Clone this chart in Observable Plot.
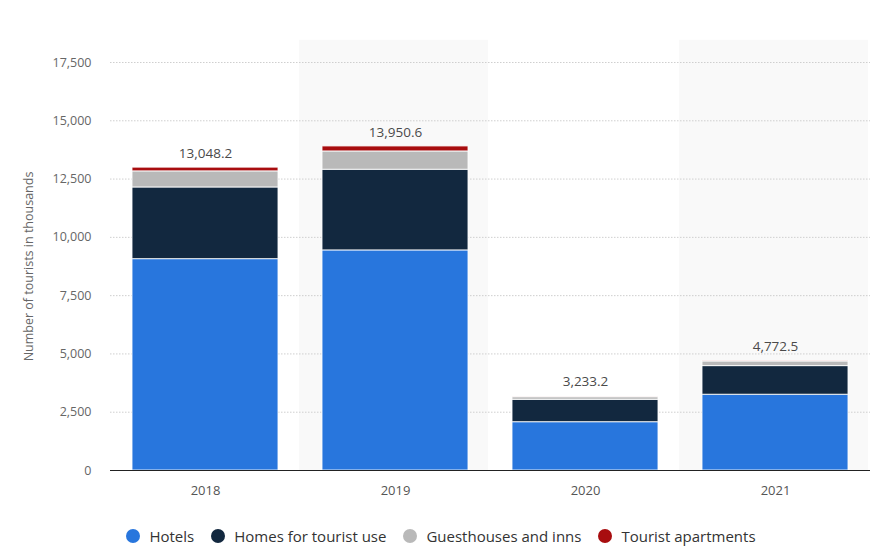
<!DOCTYPE html>
<html>
<head>
<meta charset="utf-8">
<script src="https://cdn.jsdelivr.net/npm/d3@7"></script>
<script src="https://cdn.jsdelivr.net/npm/@observablehq/plot@0.6"></script>
<style>
  body { margin: 0; background: #fff; font-family: "Open Sans", sans-serif; }
  #wrap { width: 878px; height: 549px; position: relative; }
  #legend { position: absolute; top: 526px; left: 0; width: 878px; display: flex; justify-content: center; gap: 17px; font-size: 15px; color: #333; padding-left: 4px; box-sizing: border-box; }
  #legend .it { display: flex; align-items: center; gap: 9px; }
  #legend .dot { width: 14px; height: 14px; border-radius: 50%; display: inline-block; }
</style>
</head>
<body>
<div id="wrap"><div id="chart"></div><div id="legend"></div></div>
<script>
const years = ["2018", "2019", "2020", "2021"];
const hotels = [9065, 9440, 2072, 3250];
const homes = [3075, 3460, 961, 1228];
const guesthouses = [690, 785, 112, 200];
const apartments = [160, 215, 10, 15];
const totals = [13048.2, 13950.6, 3233.2, 4772.5];
const totalLabels = ["13,048.2", "13,950.6", "3,233.2", "4,772.5"];
const seriesNames = ["Hotels", "Homes for tourist use", "Guesthouses and inns", "Tourist apartments"];
const seriesColors = ["#2876dd", "#12283f", "#b9b9b9", "#a80d0f"];
const yTicks = [0, 2500, 5000, 7500, 10000, 12500, 15000, 17500];
const shadedYears = ["2019", "2021"];

const seriesValues = [hotels, homes, guesthouses, apartments];
const data = [];
seriesNames.forEach((s, i) => years.forEach((y, j) => data.push({year: y, type: s, value: seriesValues[i][j]})));
const totalData = years.map((y, j) => ({year: y, total: totals[j], label: totalLabels[j]}));
const fmt = d3.format(",");

const chart = Plot.plot({
  width: 878,
  height: 510,
  marginLeft: 110,
  marginRight: 8,
  marginTop: 62,
  marginBottom: 40,
  style: {fontFamily: "'Open Sans', sans-serif", fontSize: "12px", color: "#666", background: "transparent"},
  x: {domain: years, paddingInner: 0.23, paddingOuter: 0.115},
  y: {domain: [0, 17500]},
  color: {domain: seriesNames, range: seriesColors},
  marks: [
    Plot.barY(shadedYears, {x: d => d, y1: 0, y2: 18450, fill: "#f9f9f9", insetLeft: -23, insetRight: -20}),
    Plot.ruleY(yTicks.filter(d => d > 0), {stroke: "#cfcfcf", strokeDasharray: "1.5,1.5"}),
    Plot.barY(data, {x: "year", y: "value", fill: "type", stroke: "#ffffff", strokeWidth: 1, strokeOpacity: 0.85}),
    Plot.ruleY([0], {stroke: "#222", strokeWidth: 1.2}),
    Plot.text(totalData, {x: "year", y: "total", text: "label", dy: -13, fill: "#4a4a4a", fontSize: 13.5, letterSpacing: 1}),
    Plot.axisY({ticks: yTicks, tickFormat: d => fmt(d), tickSize: 0, tickPadding: 19, fontSize: 12.5, fill: "#666",
      label: "Number of tourists in thousands", labelAnchor: "center", labelOffset: 86, labelArrow: "none"}),
    Plot.axisX({tickSize: 0, tickPadding: 15, fontSize: 13, fill: "#555", label: null})
  ]
});
document.getElementById("chart").appendChild(chart);

const legend = document.getElementById("legend");
seriesNames.forEach((s, i) => {
  const it = document.createElement("div");
  it.className = "it";
  it.innerHTML = `<span class="dot" style="background:${seriesColors[i]}"></span><span>${s}</span>`;
  legend.appendChild(it);
});
</script>
</body>
</html>
